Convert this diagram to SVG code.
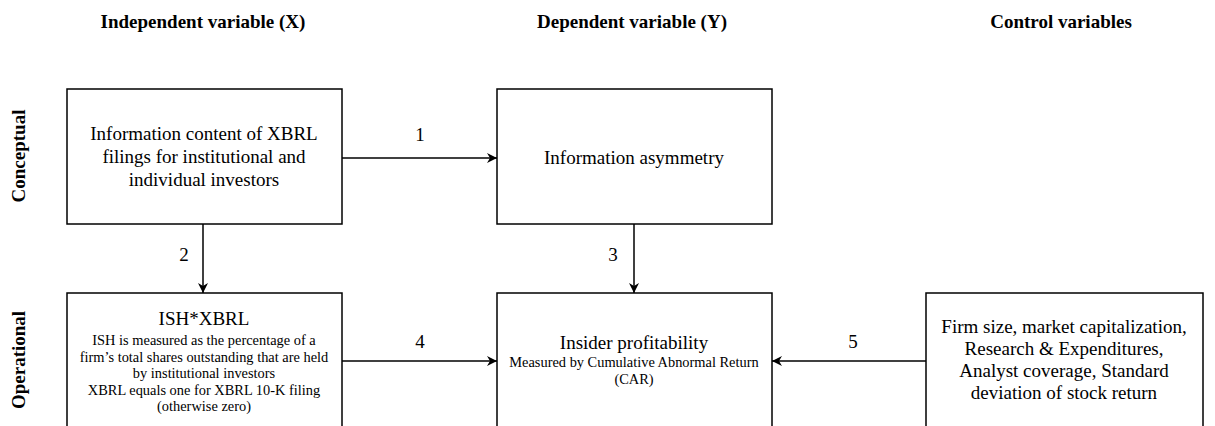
<svg xmlns="http://www.w3.org/2000/svg" width="1215" height="426" viewBox="0 0 1215 426">
<style>
.box{fill:#fff;stroke:#000;stroke-width:1.5}
.t{font-family:"Liberation Serif","Times New Roman",serif;fill:#000;text-anchor:middle}
.h{font-size:19px;font-weight:bold}
.m{font-size:19px}
.l{font-size:19px}
.s{font-size:14.4px}
.c{stroke:#000;stroke-width:1.5;fill:none;marker-end:url(#ah)}
</style>
<defs>
<marker id="ah" viewBox="0 0 10 10" refX="10" refY="5" markerWidth="10" markerHeight="10" markerUnits="userSpaceOnUse" orient="auto">
<path d="M0,0 L10,5 L0,10 L3,5 z" fill="#000"/>
</marker>
</defs>
<g id="headers">
<text class="t h" x="203" y="28">Independent variable (X)</text>
<text class="t h" x="632" y="28">Dependent variable (Y)</text>
<text class="t h" x="1061" y="28">Control variables</text>
<text class="t h" transform="translate(25,156) rotate(-90)">Conceptual</text>
<text class="t h" transform="translate(25,360) rotate(-90)">Operational</text>
</g>
<g id="connectors">
<line class="c" x1="342" y1="158" x2="497" y2="158"/>
<line class="c" x1="203" y1="224" x2="203" y2="293"/>
<line class="c" x1="634" y1="224" x2="634" y2="293"/>
<line class="c" x1="342" y1="361" x2="497" y2="361"/>
<line class="c" x1="926" y1="361" x2="772" y2="361"/>
<text class="t m" x="420" y="141">1</text>
<text class="t m" x="184" y="261">2</text>
<text class="t m" x="613" y="261">3</text>
<text class="t m" x="420" y="348">4</text>
<text class="t m" x="853" y="348">5</text>
</g>
<g id="node-x-conceptual">
<rect class="box" x="67" y="89" width="275" height="135"/>
<text class="t m" x="204" y="140">Information content of XBRL</text>
<text class="t m" x="204" y="163">filings for institutional and</text>
<text class="t m" x="204" y="186">individual investors</text>
</g>
<g id="node-y-conceptual">
<rect class="box" x="497" y="89" width="275" height="135"/>
<text class="t m" x="634" y="164">Information asymmetry</text>
</g>
<g id="node-x-operational">
<rect class="box" x="67" y="293" width="275" height="150"/>
<text class="t l" x="204" y="325">ISH*XBRL</text>
<text class="t s" x="204" y="345">ISH is measured as the percentage of a</text>
<text class="t s" x="204" y="361.5">firm’s total shares outstanding that are held</text>
<text class="t s" x="204" y="378">by institutional investors</text>
<text class="t s" x="204" y="394.5">XBRL equals one for XBRL 10-K filing</text>
<text class="t s" x="204" y="411">(otherwise zero)</text>
</g>
<g id="node-y-operational">
<rect class="box" x="497" y="293" width="275" height="150"/>
<text class="t l" x="634" y="349">Insider profitability</text>
<text class="t s" x="634" y="367">Measured by Cumulative Abnormal Return</text>
<text class="t s" x="634" y="384">(CAR)</text>
</g>
<g id="node-controls">
<rect class="box" x="926" y="293" width="277" height="150"/>
<text class="t m" x="1064" y="333">Firm size, market capitalization,</text>
<text class="t m" x="1064" y="355">Research &amp; Expenditures,</text>
<text class="t m" x="1064" y="377">Analyst coverage, Standard</text>
<text class="t m" x="1064" y="399">deviation of stock return</text>
</g>
</svg>
